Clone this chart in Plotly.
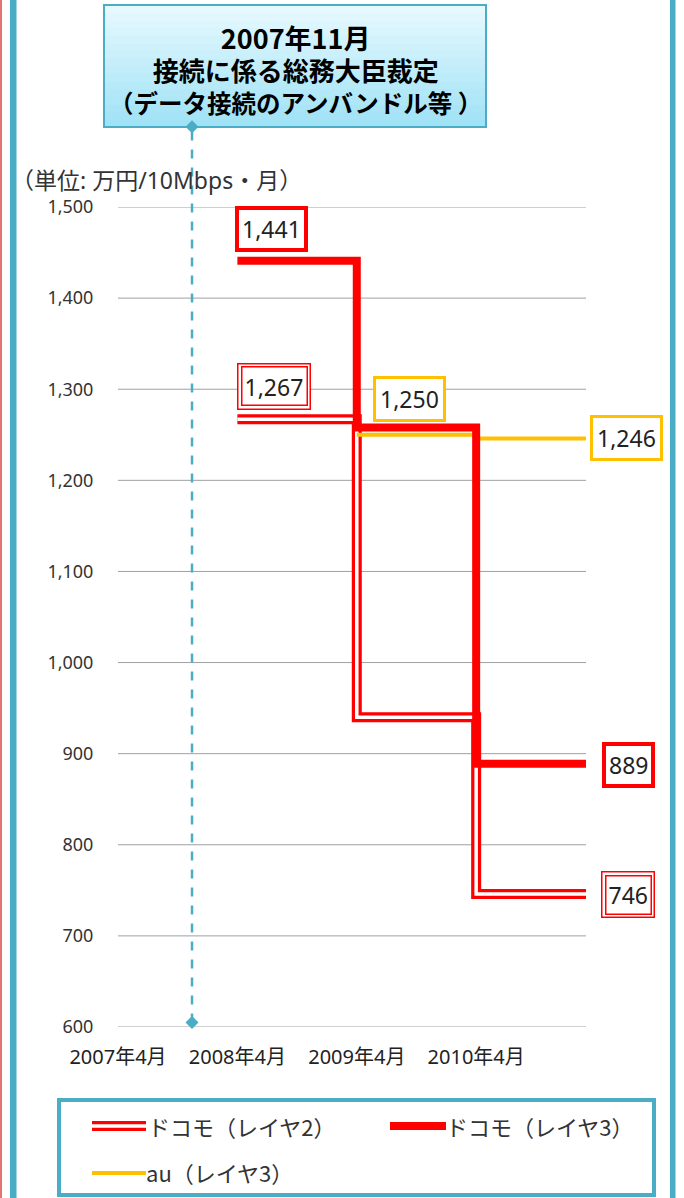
import plotly.graph_objects as go

# ---------------- data ----------------
x_tick_vals = [0, 1, 2, 3]
x_tick_text = ["2007年4月", "2008年4月", "2009年4月", "2010年4月"]
y_tick_vals = [600, 700, 800, 900, 1000, 1100, 1200, 1300, 1400, 1500]

docomo_l2_x = [1, 2, 3, 3.92]
docomo_l2_y = [1267, 940, 746, 746]
docomo_l3_x = [1, 2, 3, 3.92]
docomo_l3_y = [1441, 1258, 889, 889]
au_x = [2, 3, 3.92]
au_y = [1250, 1246, 1246]
event_x = 0.62          # 2007年11月
event_y = [605, 1588]

series_names = ["ドコモ（レイヤ2）", "ドコモ（レイヤ3）", "au（レイヤ3）"]
title_lines = ["2007年11月", "接続に係る総務大臣裁定", "（データ接続のアンバンドル等 ）"]
unit_text = "（単位: 万円/10Mbps・月）"

# ---------------- styling ----------------
W, H = 684, 1198
L, R, T, B = 118, 586, 207, 1027
RED = "#ff0000"
ORANGE = "#ffc000"
BLUE = "#4bacc6"
GRID = "#a0a0a0"
FONT = "Noto Sans, Noto Sans CJK JP, sans-serif"
CJK = "Noto Sans CJK JP, sans-serif"
XR = [0, 3.92]
YR = [600, 1500]


def px(xp):
    return (xp - L) / (R - L)


def py(yp):
    return (B - yp) / (B - T)


def y_to_paper(v):
    return (v - YR[0]) / (YR[1] - YR[0])


fig = go.Figure()

# docomo layer2 : double line (red outer, white inner)
fig.add_trace(go.Scatter(x=docomo_l2_x, y=docomo_l2_y, mode="lines",
                         line=dict(shape="hv", color=RED, width=10),
                         showlegend=False, hoverinfo="skip"))
fig.add_trace(go.Scatter(x=docomo_l2_x, y=docomo_l2_y, mode="lines",
                         line=dict(shape="hv", color="white", width=3.5),
                         showlegend=False, hoverinfo="skip"))
# au layer3
fig.add_trace(go.Scatter(x=au_x, y=au_y, mode="lines",
                         line=dict(shape="hv", color=ORANGE, width=4),
                         showlegend=False, hoverinfo="skip"))
# docomo layer3
fig.add_trace(go.Scatter(x=docomo_l3_x, y=docomo_l3_y, mode="lines",
                         line=dict(shape="hv", color=RED, width=8),
                         showlegend=False, hoverinfo="skip"))

shapes = []
# grid lines (from tick values)
for v in y_tick_vals:
    shapes.append(dict(type="line", xref="paper", yref="y", x0=0, x1=1, y0=v, y1=v,
                       line=dict(color=GRID, width=1), layer="below"))

# event dashed line with diamond ends
ey0, ey1 = y_to_paper(event_y[0]), y_to_paper(event_y[1])
shapes.append(dict(type="line", xref="x", yref="paper", x0=event_x, x1=event_x,
                   y0=ey0, y1=ey1, line=dict(color=BLUE, width=2.5, dash="dash"),
                   layer="above"))
dx = 6.5 * (XR[1] - XR[0]) / (R - L)
dy = 6.5 / (B - T)
for ey in (ey0, ey1):
    shapes.append(dict(type="path", xref="x", yref="paper",
                       path=f"M {event_x - dx},{ey} L {event_x},{ey + dy} L {event_x + dx},{ey} "
                            f"L {event_x},{ey - dy} Z",
                       fillcolor=BLUE, line=dict(width=0), layer="above"))

# outer frame
shapes.append(dict(type="rect", xref="paper", yref="paper", x0=px(0), x1=px(2),
                   y0=py(H), y1=py(0), fillcolor="#e57373", line=dict(width=0)))
shapes.append(dict(type="rect", xref="paper", yref="paper", x0=px(10), x1=px(16.5),
                   y0=py(H), y1=py(0), fillcolor=BLUE, line=dict(width=0)))
shapes.append(dict(type="rect", xref="paper", yref="paper", x0=px(670), x1=px(675.5),
                   y0=py(H), y1=py(0), fillcolor=BLUE, line=dict(width=0)))

# title box with vertical gradient
bx0, bx1, by0, by1 = 104, 486, 5, 127
n = 16
c_top = (230, 249, 254)
c_bot = (160, 226, 246)
for i in range(n):
    t = i / (n - 1)
    c = tuple(int(round(c_top[k] + (c_bot[k] - c_top[k]) * t)) for k in range(3))
    ya = by0 + (by1 - by0) * i / n
    yb = by0 + (by1 - by0) * (i + 1) / n + 0.5
    shapes.append(dict(type="rect", xref="paper", yref="paper", x0=px(bx0), x1=px(bx1),
                       y0=py(yb), y1=py(ya), fillcolor="rgb(%d,%d,%d)" % c,
                       line=dict(width=0), layer="below"))
shapes.append(dict(type="rect", xref="paper", yref="paper", x0=px(bx0), x1=px(bx1),
                   y0=py(by1), y1=py(by0), line=dict(color=BLUE, width=2), layer="below"))

# legend box
shapes.append(dict(type="rect", xref="paper", yref="paper", x0=px(59), x1=px(654),
                   y0=py(1195), y1=py(1100), line=dict(color=BLUE, width=4)))
# legend samples
shapes.append(dict(type="line", xref="paper", yref="paper", x0=px(92), x1=px(146),
                   y0=py(1126), y1=py(1126), line=dict(color=RED, width=10)))
shapes.append(dict(type="line", xref="paper", yref="paper", x0=px(92), x1=px(146),
                   y0=py(1126), y1=py(1126), line=dict(color="white", width=3.5)))
shapes.append(dict(type="line", xref="paper", yref="paper", x0=px(390), x1=px(446),
                   y0=py(1126), y1=py(1126), line=dict(color=RED, width=8)))
shapes.append(dict(type="line", xref="paper", yref="paper", x0=px(92), x1=px(146),
                   y0=py(1173), y1=py(1173), line=dict(color=ORANGE, width=4)))

ann = []


def ptext(xp, yp, text, size, family=CJK, xanchor="center", color="black"):
    return dict(xref="paper", yref="paper", x=px(xp), y=py(yp), text=text,
                xanchor=xanchor, yanchor="middle", showarrow=False,
                font=dict(family=family, size=size, color=color))


# title text (single block)
title_html = ("<b><span style='font-size:27px'>" + title_lines[0] + "</span><br>"
              + "<span style='font-size:26px'>" + title_lines[1] + "</span><br>"
              + title_lines[2] + "</b>")
ann.append(ptext(295, 69, title_html, 24.5))
# unit
ann.append(ptext(9, 180, unit_text, 23, FONT, "left", "#333333"))
# legend texts
ann.append(ptext(146, 1126, series_names[0], 22, CJK, "left", "#333333"))
ann.append(ptext(444, 1126, series_names[1], 22, CJK, "left", "#333333"))
ann.append(ptext(144, 1172, series_names[2], 22, CJK, "left", "#333333"))


def label(x, y, dx, dy, color, bw, pad):
    return dict(x=x, y=y, xref="x", yref="y", xshift=dx, yshift=dy, text=f"{y:,}",
                xanchor="center", yanchor="middle",
                showarrow=False, bgcolor="white", bordercolor=color, borderwidth=bw,
                borderpad=pad, font=dict(family=FONT, size=23, color="#222222"))


def dlabel(x, y, dx, dy):
    a = label(x, y, dx, dy, RED, 1.5, 6)
    b = label(x, y, dx, dy, RED, 1.5, 2.5)
    b["bgcolor"] = "rgba(0,0,0,0)"
    b["font"] = dict(family=FONT, size=23, color="rgba(0,0,0,0)")
    return [a, b]


ann.append(label(docomo_l3_x[0], docomo_l3_y[0], 34, 32, RED, 4, 3))
ann += dlabel(docomo_l2_x[0], docomo_l2_y[0], 37, 33)
ann.append(label(au_x[0], au_y[0], 53, 36, ORANGE, 3, 4))
ann.append(label(au_x[-1], au_y[-1], 40, 0, ORANGE, 3, 4))
ann.append(label(docomo_l3_x[-1], docomo_l3_y[-1], 42, -1, RED, 4, 3))
ann += dlabel(docomo_l2_x[-1], docomo_l2_y[-1], 42, -1)

fig.update_layout(
    width=W, height=H,
    margin=dict(l=L, r=W - R, t=T, b=H - B),
    paper_bgcolor="white", plot_bgcolor="rgba(0,0,0,0)",
    shapes=shapes, annotations=ann, showlegend=False,
    xaxis=dict(range=XR, tickvals=x_tick_vals, ticktext=x_tick_text,
               showgrid=False, zeroline=False, showline=False,
               ticks="outside", ticklen=12, tickcolor="rgba(0,0,0,0)",
               tickfont=dict(family=FONT, size=20, color="#222222"), fixedrange=True),
    yaxis=dict(range=YR, tickvals=y_tick_vals, tickformat=",",
               showgrid=False, zeroline=False,
               showline=False, ticks="outside", ticklen=20, tickcolor="rgba(0,0,0,0)",
               tickfont=dict(family=FONT, size=18, color="#333333"), fixedrange=True),
)

fig.write_html("out.html")
